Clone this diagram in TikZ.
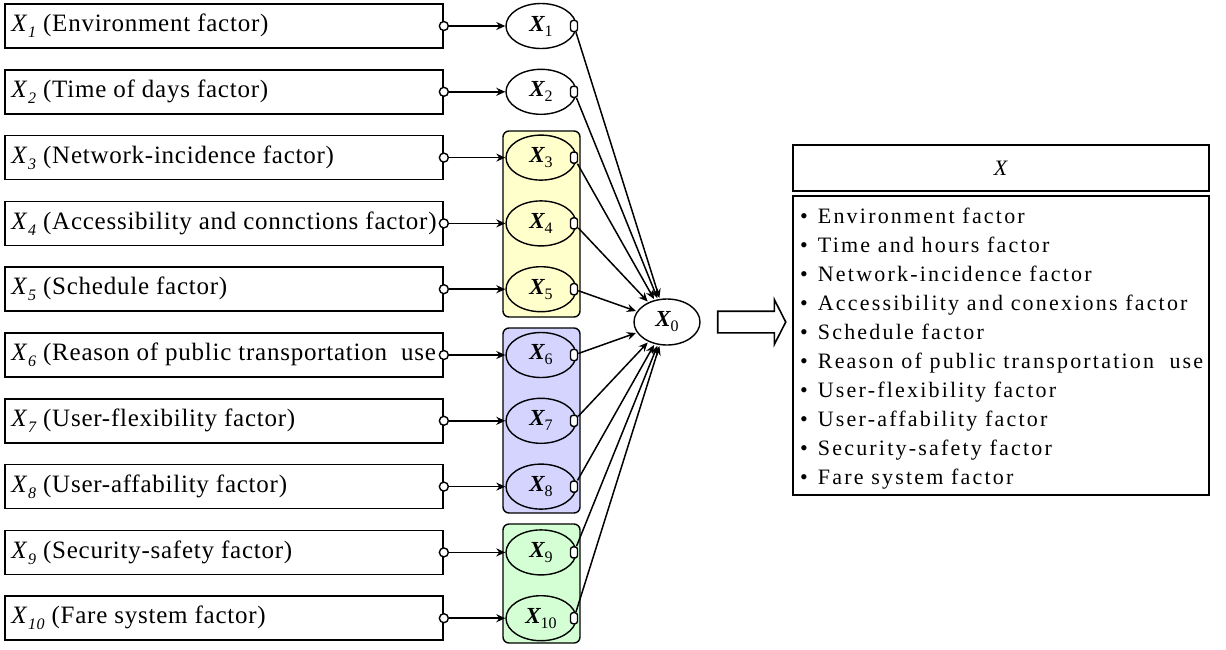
\documentclass[tikz,border=0pt]{standalone}
\usepackage{fontspec}
\setmainfont{Liberation Serif}
\newfontfamily\boxfont[LetterSpace=3]{Liberation Serif}
\newfontfamily\listfont[LetterSpace=10]{Liberation Serif}
\usetikzlibrary{shapes.geometric,shapes.arrows,arrows.meta}

\definecolor{grpyellow}{HTML}{FFFFCC}
\definecolor{grpblue}{HTML}{D4D4FF}
\definecolor{grpgreen}{HTML}{D4FFD4}

% factor label in the left boxes: italic X with italic subscript
\newcommand{\fx}[1]{\textit{X}\raisebox{-6pt}{\fontsize{16}{16}\selectfont\itshape #1}}
% latent variable label: bold italic X with upright subscript
\newcommand{\lx}[1]{{\bfseries\itshape X}\raisebox{-5pt}{\fontsize{16}{16}\selectfont #1}}
% list bullet followed by its gap
\newcommand{\itm}{•\hspace{10pt}}

\begin{document}
\begin{tikzpicture}[x=1pt,y=-1pt,
  factorbox/.style={draw, line width=1.7pt, minimum width=438pt, minimum height=44pt, inner sep=0pt},
  factortext/.style={anchor=west, inner sep=0pt, font=\boxfont\fontsize{25}{30}\selectfont},
  pin/.style={circle, draw, fill=white, line width=1.4pt, minimum size=9pt, inner sep=0pt},
  latent/.style={ellipse, draw, line width=1.4pt, minimum width=70pt, minimum height=45pt, inner sep=0pt, font=\fontsize{23}{26}\selectfont},
  port/.style={rectangle, rounded corners=2.5pt, draw, fill=white, line width=1.4pt, minimum width=7pt, minimum height=11pt, inner sep=0pt},
  group/.style={draw, rounded corners=6pt, line width=1.4pt, minimum width=77pt, inner sep=0pt},
  link/.style={line width=1.5pt, -{Stealth[length=9pt,width=8pt]}},
  plainbox/.style={draw, line width=1.7pt, minimum width=416pt, inner sep=0pt},
]
\useasboundingbox (0,0) rectangle (1226,649);

% coloured groups of latent variables
\node[group, fill=grpyellow, minimum height=186pt] (gA) at (541.5,224) {};
\node[group, fill=grpblue,   minimum height=185pt] (gB) at (541.5,420.5) {};
\node[group, fill=grpgreen,  minimum height=119pt] (gC) at (541.5,583.5) {};

% observed factors, latent variables and their links
\foreach \i/\txt in {1/Environment factor),2/Time of days factor),3/Network-incidence factor),
  4/Accessibility and connctions factor),5/Schedule factor),6/Reason of public transportation\ \ use,
  7/User-flexibility factor),8/User-affability factor),9/Security-safety factor),10/Fare system factor)}{
  \pgfmathsetmacro{\c}{26+65.8*(\i-1)}
  \node[factorbox] (b\i) at (224,\c) {};
  \node[factortext] (t\i) at ([xshift=7pt]b\i.west) {\fx{\i} (\txt};
  \ifnum\i<3
    \node[latent, fill=white] (l\i) at (541,\c) {\lx{\i}};
  \else
    \node[latent] (l\i) at (541,\c) {\lx{\i}};
  \fi
  \node[pin] (p\i) at (b\i.east) {};
  \node[port] (q\i) at (574,\c) {};
}

\node[latent, minimum width=66pt, minimum height=46pt] (x0) at (667,322) {\lx{0}};

\foreach \i in {1,...,10}{
  \draw[link] (p\i) -- (l\i);
  \draw[link, shorten >=1pt] (q\i) -- (x0);
}

% transition arrow
\node[single arrow, draw, line width=1.6pt, minimum height=68pt, inner xsep=0pt, inner ysep=10pt,
  single arrow head extend=11.5pt, single arrow tip angle=126] (flow) at (749,322) {};

% summary of the factor set
\node[plainbox, minimum height=46pt, font=\fontsize{22}{26}\selectfont] (title) at (1001,168) {\textit{X}};
\node[plainbox, minimum height=299pt] (listbox) at (1001,345.5) {};
\begin{scope}
  \clip (listbox.south west) rectangle (listbox.north east);
  \node[anchor=north west, inner sep=0pt, align=left, font=\listfont\fontsize{22}{29}\selectfont]
    (items) at (800,208) {%
    \itm Environment factor\\
    \itm Time and hours factor\\
    \itm Network-incidence factor\\
    \itm Accessibility and conexions factor\\
    \itm Schedule factor\\
    \itm Reason of public transportation\ \ use\\
    \itm User-flexibility factor\\
    \itm User-affability factor\\
    \itm Security-safety factor\\
    \itm Fare system factor};
\end{scope}
\end{tikzpicture}
\end{document}
